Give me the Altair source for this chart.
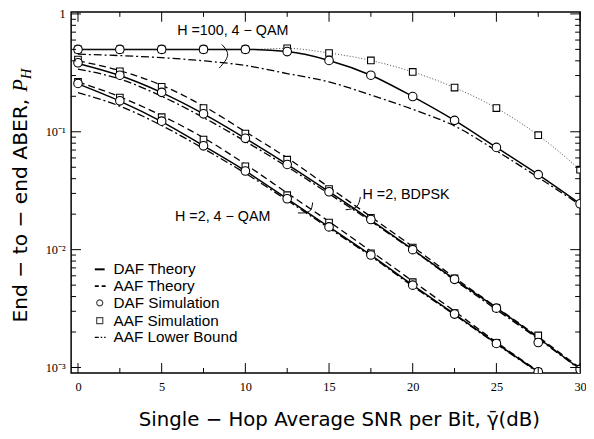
import altair as alt
import pandas as pd

# ---------------- data ----------------
SNR = [0, 2.5, 5, 7.5, 10, 12.5, 15, 17.5, 20, 22.5, 25, 27.5, 30]
SNR_QAM2 = SNR[:12]

# H = 100, 4-QAM
h100_daf_sim = [0.50, 0.50, 0.50, 0.50, 0.50, 0.479, 0.403, 0.302, 0.199, 0.125, 0.0737, 0.0433, 0.0245]
h100_daf_th = [0.50, 0.50, 0.50, 0.50, 0.50, 0.479, 0.403, 0.302, 0.199, 0.125, 0.0737, 0.0433, 0.0245]
h100_aaf_sim = [0.50, 0.50, 0.50, 0.50, 0.50, 0.51, 0.466, 0.403, 0.322, 0.237, 0.159, 0.0935, 0.0477]
h100_aaf_lb = [0.455, 0.443, 0.425, 0.40, 0.365, 0.312, 0.265, 0.205, 0.155, 0.112, 0.069, 0.041, 0.024]

# H = 2, BDPSK
bd_daf_sim = [0.385, 0.302, 0.216, 0.142, 0.088, 0.0528, 0.031, 0.018, 0.010, 0.0056, 0.00319, 0.00163, 0.00096]
bd_daf_th = [0.38, 0.300, 0.215, 0.142, 0.088, 0.053, 0.031, 0.0178, 0.0100, 0.0056, 0.0032, 0.00178, 0.00097]
bd_aaf_sim = [0.41, 0.326, 0.241, 0.159, 0.0965, 0.058, 0.0327, 0.0186, 0.0104, 0.0057, 0.0032, 0.00187, 0.00098]
bd_aaf_th = [0.40, 0.330, 0.248, 0.165, 0.100, 0.060, 0.0338, 0.0190, 0.0106, 0.0058, 0.00325, 0.00182, 0.00099]
bd_aaf_lb = [0.34, 0.280, 0.200, 0.132, 0.083, 0.0505, 0.0298, 0.0174, 0.0099, 0.0055, 0.0031, 0.00175, 0.00096]

# H = 2, 4-QAM
q2_daf_sim = [0.257, 0.183, 0.123, 0.076, 0.0465, 0.0270, 0.0156, 0.0090, 0.0050, 0.00284, 0.0016, 0.00092]
q2_daf_th = [0.255, 0.182, 0.122, 0.076, 0.0465, 0.0270, 0.0156, 0.0090, 0.0050, 0.00284, 0.0016, 0.00092]
q2_aaf_sim = [0.265, 0.195, 0.133, 0.086, 0.051, 0.029, 0.0170, 0.0093, 0.0053, 0.0029, 0.00162, 0.00092]
q2_aaf_th = [0.265, 0.198, 0.137, 0.089, 0.053, 0.0302, 0.0173, 0.0097, 0.0054, 0.0030, 0.00164, 0.00093]
q2_aaf_lb = [0.215, 0.165, 0.113, 0.072, 0.0445, 0.0262, 0.0152, 0.0088, 0.0049, 0.0028, 0.00158, 0.00091]

X_TICKS = [0, 5, 10, 15, 20, 25, 30]
X_MINOR = [2.5, 7.5, 12.5, 17.5, 22.5, 27.5]
Y_TICKS = [0.001, 0.01, 0.1, 1]
Y_MINOR = [k * 10.0 ** e for e in (-3, -2, -1) for k in range(2, 10)]

LEGEND_LABELS = ["DAF Theory", "AAF Theory", "DAF Simulation", "AAF Simulation", "AAF Lower Bound"]

# annotations (data coordinates)
ann_text = ["H =100, 4 − QAM", "H =2, BDPSK", "H =2, 4 − QAM"]
ann_x = [9.25, 17.0, 5.8]
ann_y = [0.72, 0.0291, 0.019]
ann_align = ["center", "left", "left"]
brace_h100_x = [8.59, 8.94, 8.44]
brace_h100_y = [0.551, 0.446, 0.347]
brace_bd_x = [15.99, 16.64, 16.87]
brace_bd_y = [0.0218, 0.0231, 0.028]
brace_q2_x = [13.14, 13.82, 14.02]
brace_q2_y = [0.0205, 0.0211, 0.0251]

# ---------------- layout ----------------
W, H = 516, 366
XDOM = [-0.41, 30]
YDOM = [0.0009, 1.04]
xs = alt.Scale(domain=XDOM, nice=False, zero=False)
ys = alt.Scale(type="log", domain=YDOM, nice=False)

X_AXIS = alt.Axis(values=X_TICKS, ticks=False, domain=False, grid=False, tickSize=0,
                  labelFont="Liberation Serif", labelFontSize=12.5, labelColor="black",
                  labelPadding=8, format="d", labelFlush=False, labelOverlap=False)
Y_AXIS = alt.Axis(values=Y_TICKS, ticks=False, domain=False, grid=False, tickSize=0,
                  labelFont="Liberation Serif", labelFontSize=12.5, labelColor="black",
                  labelPadding=6, labelFlush=False, labelOverlap=False,
                  labelExpr="datum.value > 0.5 ? '1' : datum.value > 0.05 ? '10⁻¹' : datum.value > 0.005 ? '10⁻²' : '10⁻³'")
X = alt.X("x:Q", scale=xs, title=None, axis=X_AXIS)
Y = alt.Y("y:Q", scale=ys, title=None, axis=Y_AXIS)


def series(xv, yv, name):
    return pd.DataFrame({"x": xv, "y": yv, "s": name})


solid_df = pd.concat([series(SNR, h100_daf_th, "h100"), series(SNR, bd_daf_th, "bd"),
                      series(SNR_QAM2, q2_daf_th, "q2")])
dashed_df = pd.concat([series(SNR, bd_aaf_th, "bd"), series(SNR_QAM2, q2_aaf_th, "q2")])
dashdot_df = pd.concat([series(SNR, h100_aaf_lb, "h100"), series(SNR, bd_aaf_lb, "bd"),
                        series(SNR_QAM2, q2_aaf_lb, "q2")])
dotted_df = series(SNR, h100_aaf_sim, "h100")
circ_df = pd.concat([series(SNR, h100_daf_sim, "h100"), series(SNR, bd_daf_sim, "bd"),
                     series(SNR_QAM2, q2_daf_sim, "q2")])
sq_df = pd.concat([series(SNR, h100_aaf_sim, "h100"), series(SNR, bd_aaf_sim, "bd"),
                   series(SNR_QAM2, q2_aaf_sim, "q2")])


def line_layer(df, dash, width=1.4, color="black"):
    kw = dict(clip=True, strokeWidth=width, color=color, interpolate="monotone")
    if dash:
        kw["strokeDash"] = dash
    return alt.Chart(df).mark_line(**kw).encode(x=X, y=Y, detail="s:N")


layers = [
    line_layer(solid_df, None, 1.5),
    line_layer(dashed_df, [7, 4], 1.3),
    line_layer(dashdot_df, [8, 3, 2, 3], 1.3),
    line_layer(dotted_df, [1, 2], 0.9, color="#333333"),
    alt.Chart(sq_df).mark_point(shape="square", size=45, filled=True, fill="white",
                                stroke="black", strokeWidth=1.1, opacity=1, clip=True
                                ).encode(x=X, y=Y),
    alt.Chart(circ_df).mark_point(shape="circle", size=75, filled=True, fill="white",
                                  stroke="black", strokeWidth=1.1, opacity=1, clip=True
                                  ).encode(x=X, y=Y),
]

# inward ticks
xt = pd.DataFrame({"x": X_TICKS})
xm = pd.DataFrame({"x": X_MINOR})
yt = pd.DataFrame({"y": Y_TICKS})
ym = pd.DataFrame({"y": Y_MINOR})
tk = dict(color="black", strokeWidth=1)
for df, ln in ((xt, 10), (xm, 5)):
    layers.append(alt.Chart(df).mark_rule(**tk).encode(x=X, y=alt.value(H), y2=alt.value(H - ln)))
    layers.append(alt.Chart(df).mark_rule(**tk).encode(x=X, y=alt.value(0), y2=alt.value(ln)))
for df, ln in ((yt, 10), (ym, 5)):
    layers.append(alt.Chart(df).mark_rule(**tk).encode(y=Y, x=alt.value(0), x2=alt.value(ln)))
    layers.append(alt.Chart(df).mark_rule(**tk).encode(y=Y, x=alt.value(W), x2=alt.value(W - ln)))

# annotations
ann_df = pd.DataFrame({"t": ann_text, "x": ann_x, "y": ann_y, "a": ann_align})
for a in ("center", "left"):
    layers.append(alt.Chart(ann_df[ann_df.a == a]).mark_text(
        align=a, baseline="middle", font="Liberation Sans", fontSize=14.5, color="black"
    ).encode(x=X, y=Y, text="t:N"))
for bx, by in ((brace_h100_x, brace_h100_y), (brace_bd_x, brace_bd_y), (brace_q2_x, brace_q2_y)):
    bdf = pd.DataFrame({"x": bx, "y": by, "o": list(range(len(bx)))})
    layers.append(alt.Chart(bdf).mark_line(color="black", strokeWidth=1, interpolate="natural")
                  .encode(x=X, y=Y, order="o:O"))

# legend (inside the plot, lower left)
LX_SYM, LX_TXT = 29, 43
LY = [261, 278, 295, 313, 330]
for lab, yy in zip(LEGEND_LABELS, LY):
    layers.append(alt.Chart(pd.DataFrame({"t": [lab]})).mark_text(
        align="left", baseline="middle", font="Liberation Sans", fontSize=15.5, color="black"
    ).encode(x=alt.value(LX_TXT), y=alt.value(yy), text="t:N"))
one = pd.DataFrame({"t": ["s"]})
layers.append(alt.Chart(one).mark_rule(color="black", strokeWidth=2)
              .encode(x=alt.value(LX_SYM - 5), x2=alt.value(LX_SYM + 5), y=alt.value(LY[0])))
layers.append(alt.Chart(one).mark_rule(color="black", strokeWidth=1.6, strokeDash=[4, 3])
              .encode(x=alt.value(LX_SYM - 5), x2=alt.value(LX_SYM + 6), y=alt.value(LY[1])))
layers.append(alt.Chart(one).mark_point(shape="circle", size=38, color="black", strokeWidth=1.2)
              .encode(x=alt.value(LX_SYM), y=alt.value(LY[2])))
layers.append(alt.Chart(one).mark_point(shape="square", size=38, color="black", strokeWidth=1.2)
              .encode(x=alt.value(LX_SYM), y=alt.value(LY[3])))
layers.append(alt.Chart(one).mark_rule(color="black", strokeWidth=1.4, strokeDash=[4, 2, 1.5, 2])
              .encode(x=alt.value(LX_SYM - 5), x2=alt.value(LX_SYM + 6), y=alt.value(LY[4])))

# axis titles
layers.append(alt.Chart(pd.DataFrame({"t": ["Single − Hop Average SNR per Bit, γ̄(dB)"]})).mark_text(
    align="center", baseline="alphabetic", font="DejaVu Sans", fontSize=20, color="black"
).encode(x=alt.value(272), y=alt.value(420), text="t:N"))
layers.append(alt.Chart(pd.DataFrame({"t": ["End − to − end ABER,"]})).mark_text(
    align="right", baseline="alphabetic", angle=270, font="DejaVu Sans", fontSize=20.5, color="black"
).encode(x=alt.value(-45), y=alt.value(88), text="t:N"))
layers.append(alt.Chart(pd.DataFrame({"t": ["P"]})).mark_text(
    align="left", baseline="alphabetic", angle=270, font="Liberation Serif", fontStyle="italic",
    fontSize=21, color="black"
).encode(x=alt.value(-45), y=alt.value(81), text="t:N"))
layers.append(alt.Chart(pd.DataFrame({"t": ["H"]})).mark_text(
    align="left", baseline="alphabetic", angle=270, font="Liberation Serif", fontStyle="italic",
    fontSize=14.5, color="black"
).encode(x=alt.value(-41), y=alt.value(68), text="t:N"))

chart = alt.layer(*layers).properties(
    width=W, height=H,
    autosize=alt.AutoSizeParams(type="none"),
    padding={"left": 64, "top": 1, "right": 6, "bottom": 60},
    background="white",
).configure_view(stroke="black", strokeWidth=1.5)

chart.save("out.html", embed_options={"renderer": "svg", "actions": False})
